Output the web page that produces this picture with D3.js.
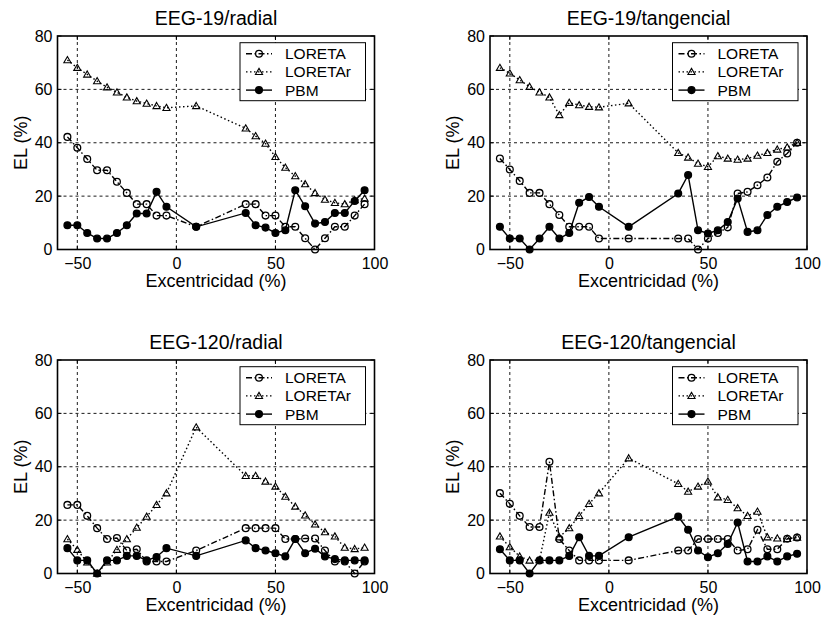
<!DOCTYPE html>
<html>
<head>
<meta charset="utf-8">
<script src="https://cdn.jsdelivr.net/npm/d3@7"></script>
<style>
  html, body { margin: 0; padding: 0; background: #fff; }
  svg { display: block; font-family: "Liberation Sans", Arial, Helvetica, sans-serif; }
</style>
</head>
<body>
<svg id="chart" width="825" height="623"></svg>
<script>
// Eccentricity samples (%) shared by every series
const excentricidad = [-55, -50, -45, -40, -35, -30, -25, -20, -15, -10, -5, 10,
                       35, 40, 45, 50, 55, 60, 65, 70, 75, 80, 85, 90, 95];

const xTicks = [-50, 0, 50, 100];
const yTicks = [0, 20, 40, 60, 80];
const seriesNames = ["LORETA", "LORETAr", "PBM"];
const panelTitles = ["EEG-19/radial", "EEG-19/tangencial", "EEG-120/radial", "EEG-120/tangencial"];

// EEG-19 / radial
const eeg19RadialLoreta  = [42.2, 38.1, 33.9, 29.7, 29.7, 25.4, 21.2, 17.0, 17.0, 12.7, 12.7, 8.5,
                            17.0, 17.0, 12.7, 12.7, 8.5, 8.5, 4.2, 0.0, 4.2, 8.5, 8.5, 12.7, 17.0];
const eeg19RadialLoretaR = [71.0, 68.1, 65.6, 63.1, 60.8, 58.9, 57.0, 55.6, 54.7, 53.8, 53.1, 53.8,
                            45.4, 42.5, 39.7, 34.7, 30.7, 27.5, 24.5, 21.2, 18.7, 17.5, 17.0, 18.5, 19.1];
const eeg19RadialPBM     = [9.1, 9.1, 6.2, 4.1, 4.1, 6.2, 9.1, 13.5, 13.5, 21.6, 16.0, 8.5,
                            13.7, 9.1, 8.2, 6.2, 7.2, 22.2, 16.2, 9.7, 10.3, 13.7, 13.7, 18.2, 22.2];

// EEG-19 / tangencial
const eeg19TangLoreta  = [34.1, 30.0, 25.7, 21.2, 21.2, 17.0, 12.9, 8.5, 8.5, 8.5, 4.1, 4.1,
                          4.1, 4.1, 0.0, 4.1, 6.2, 8.3, 21.0, 21.6, 24.1, 27.0, 32.9, 36.0, 40.0];
const eeg19TangLoretaR = [68.1, 66.0, 63.5, 61.0, 58.9, 57.0, 50.4, 55.0, 54.1, 53.5, 53.3, 54.8,
                          36.2, 34.5, 32.2, 31.0, 35.0, 34.1, 33.7, 34.1, 35.2, 36.2, 37.5, 38.3, 40.0];
const eeg19TangPBM     = [8.5, 4.1, 4.1, 0.0, 4.1, 8.5, 4.1, 6.2, 17.5, 19.7, 16.0, 8.5,
                          21.0, 27.9, 7.2, 6.0, 7.2, 10.3, 19.1, 6.6, 7.2, 12.9, 16.0, 17.8, 19.5];

// EEG-120 / radial
const eeg120RadialLoreta  = [25.7, 25.7, 21.6, 17.0, 12.9, 13.3, 8.6, 9.1, 4.5, 4.5, 4.5, 8.6,
                             17.0, 17.0, 17.0, 17.0, 12.9, 12.9, 13.1, 13.1, 8.6, 4.5, 4.5, 0.0, 4.5];
const eeg120RadialLoretaR = [12.9, 8.9, 4.2, 0.0, 4.2, 8.9, 12.9, 17.2, 21.3, 25.7, 30.1, 54.8,
                             36.6, 36.6, 34.5, 32.6, 28.8, 25.1, 21.8, 18.4, 15.5, 13.9, 9.7, 9.2, 9.7];
const eeg120RadialPBM     = [9.5, 4.9, 4.9, 0.0, 4.9, 4.9, 6.6, 6.6, 4.9, 6.2, 9.5, 6.6,
                             12.4, 9.5, 8.6, 7.6, 6.4, 12.9, 7.6, 9.3, 6.4, 5.4, 4.9, 4.9, 4.9];

// EEG-120 / tangencial
const eeg120TangLoreta  = [30.1, 26.1, 21.6, 17.4, 17.4, 41.9, 12.9, 8.6, 4.9, 4.9, 4.9, 4.9,
                           8.6, 8.6, 12.9, 12.9, 12.9, 12.9, 8.6, 9.1, 16.4, 9.1, 9.1, 13.0, 13.5];
const eeg120TangLoretaR = [13.9, 9.9, 6.4, 4.9, 5.0, 22.8, 13.6, 17.0, 21.6, 26.1, 30.1, 43.2,
                           33.6, 30.7, 32.6, 34.5, 28.6, 27.6, 24.5, 21.6, 23.2, 13.6, 13.2, 13.0, 13.5];
const eeg120TangPBM     = [9.1, 4.9, 4.9, 0.0, 4.9, 4.9, 4.9, 6.6, 13.6, 6.6, 6.6, 13.6,
                           21.3, 16.4, 8.6, 6.1, 7.6, 11.1, 19.1, 4.5, 4.5, 6.4, 4.5, 6.4, 7.4];

const panelSeries = [
  [eeg19RadialLoreta, eeg19RadialLoretaR, eeg19RadialPBM],
  [eeg19TangLoreta, eeg19TangLoretaR, eeg19TangPBM],
  [eeg120RadialLoreta, eeg120RadialLoretaR, eeg120RadialPBM],
  [eeg120TangLoreta, eeg120TangLoretaR, eeg120TangPBM]
];

// ---- layout ----
const panelW = 317, panelH = 213.5;
const panelOrigins = [[57.5, 36], [490, 36], [57.5, 360], [490, 360]];

const seriesStyle = [
  { dash: "6,2.5,1.5,2.5", marker: "circle",   fill: "none" },
  { dash: "1.5,2.5",       marker: "triangle", fill: "none" },
  { dash: null,            marker: "circle",   fill: "#000" }
];

const svg = d3.select("#chart");
svg.append("rect").attr("width", 825).attr("height", 623).attr("fill", "#fff");

const x = d3.scaleLinear().domain([-60, 100]).range([0, panelW]);
const y = d3.scaleLinear().domain([0, 80]).range([panelH, 0]);

const triPath = d3.symbol().type(d3.symbolTriangle).size(22);

function drawMarker(g, kind, fill, cx, cy) {
  if (kind === "circle") {
    g.append("circle").attr("cx", cx).attr("cy", cy).attr("r", 3.4)
      .attr("fill", fill).attr("stroke", "#000").attr("stroke-width", 1.3);
  } else {
    g.append("path").attr("d", triPath())
      .attr("transform", `translate(${cx},${cy + 0.6})`)
      .attr("fill", fill).attr("stroke", "#000").attr("stroke-width", 1.1);
  }
}

panelSeries.forEach((series, p) => {
  const [ox, oy] = panelOrigins[p];
  const g = svg.append("g").attr("transform", `translate(${ox},${oy})`);

  // grid (dotted lines at inner ticks)
  const grid = g.append("g").attr("stroke", "#000").attr("stroke-width", 0.9)
    .attr("stroke-dasharray", "3,3");
  xTicks.filter(t => t > -60 && t < 100).forEach(t => {
    grid.append("line").attr("x1", x(t)).attr("x2", x(t)).attr("y1", 0).attr("y2", panelH);
  });
  yTicks.filter(t => t > 0 && t < 80).forEach(t => {
    grid.append("line").attr("x1", 0).attr("x2", panelW).attr("y1", y(t)).attr("y2", y(t));
  });

  // inward tick marks on all four sides
  const ticks = g.append("g").attr("stroke", "#000").attr("stroke-width", 1);
  xTicks.forEach(t => {
    ticks.append("line").attr("x1", x(t)).attr("x2", x(t)).attr("y1", panelH).attr("y2", panelH - 4);
    ticks.append("line").attr("x1", x(t)).attr("x2", x(t)).attr("y1", 0).attr("y2", 4);
  });
  yTicks.forEach(t => {
    ticks.append("line").attr("x1", 0).attr("x2", 4).attr("y1", y(t)).attr("y2", y(t));
    ticks.append("line").attr("x1", panelW).attr("x2", panelW - 4).attr("y1", y(t)).attr("y2", y(t));
  });

  // tick labels through d3 axes
  const xAxis = g.append("g").attr("transform", `translate(0,${panelH})`)
    .call(d3.axisBottom(x).tickValues(xTicks).tickSize(0).tickPadding(8).tickFormat(d3.format("d")));
  const yAxis = g.append("g")
    .call(d3.axisLeft(y).tickValues(yTicks).tickSize(0).tickPadding(5).tickFormat(d3.format("d")));
  [xAxis, yAxis].forEach(a => {
    a.select(".domain").remove();
    a.selectAll("text").attr("font-size", 16).attr("fill", "#000")
      .attr("font-family", "Liberation Sans, Arial, sans-serif");
  });

  // series lines and markers
  series.forEach((vals, s) => {
    const st = seriesStyle[s];
    const pts = excentricidad.map((e, i) => [x(e), y(vals[i])]);
    g.append("path").attr("d", d3.line()(pts)).attr("fill", "none")
      .attr("stroke", "#000").attr("stroke-width", 1.4)
      .attr("stroke-dasharray", st.dash);
    const mg = g.append("g");
    pts.forEach(([cx, cy]) => drawMarker(mg, st.marker, st.fill, cx, cy));
  });

  // frame
  g.append("rect").attr("width", panelW).attr("height", panelH)
    .attr("fill", "none").attr("stroke", "#000").attr("stroke-width", 1.6);

  // legend
  const lw = 125.5, lh = 58;
  const lg = g.append("g").attr("transform", `translate(${panelW - 9 - lw},${6.7})`);
  lg.append("rect").attr("width", lw).attr("height", lh).attr("fill", "#fff")
    .attr("stroke", "#000").attr("stroke-width", 1);
  seriesNames.forEach((name, s) => {
    const st = seriesStyle[s];
    const ry = 11 + s * 18.2;
    lg.append("line").attr("x1", 6).attr("x2", 32).attr("y1", ry).attr("y2", ry)
      .attr("stroke", "#000").attr("stroke-width", 1.4).attr("stroke-dasharray", st.dash);
    drawMarker(lg, st.marker, st.fill, 19, ry);
    lg.append("text").attr("x", 45).attr("y", ry + 5.5).attr("font-size", 15.5)
      .attr("fill", "#000").text(name);
  });

  // titles and axis labels
  g.append("text").attr("x", panelW / 2).attr("y", -11).attr("text-anchor", "middle")
    .attr("font-size", 19.5).attr("fill", "#000").text(panelTitles[p]);
  g.append("text").attr("x", panelW / 2).attr("y", panelH + 37.5).attr("text-anchor", "middle")
    .attr("font-size", 18).attr("fill", "#000").text("Excentricidad (%)");
  g.append("text").attr("transform", `translate(-31,${panelH / 2}) rotate(-90)`)
    .attr("text-anchor", "middle").attr("font-size", 18).attr("fill", "#000").text("EL (%)");
});
</script>
</body>
</html>
